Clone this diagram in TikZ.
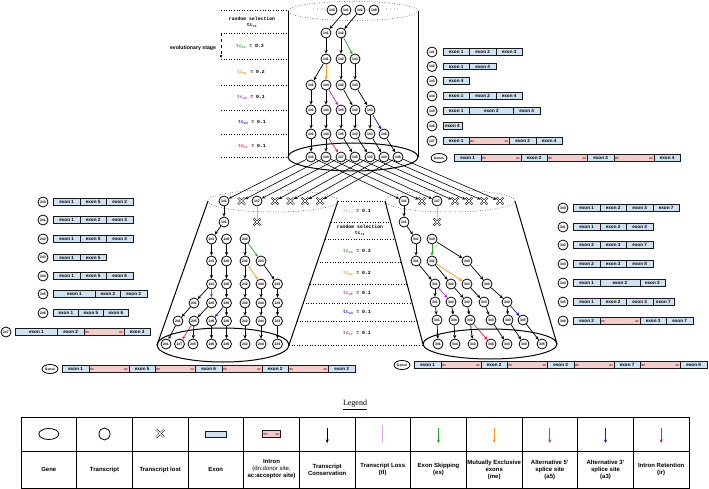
\documentclass[tikz,border=0pt]{standalone}
\usepackage{fontspec}
\setmainfont{Liberation Serif}
\setsansfont{Liberation Sans}
\setmonofont{Liberation Mono}
\usepackage{xcolor}
\usepackage{tikz}
\usetikzlibrary{shapes,arrows.meta,positioning}

\definecolor{exonblue}{HTML}{CFE2F3}
\definecolor{intronpink}{HTML}{F4CCCC}
\definecolor{esgreen}{HTML}{2CA02C}
\definecolor{meorange}{HTML}{F59A1B}
\definecolor{afpurple}{HTML}{B235C8}
\definecolor{atblue}{HTML}{1A1AB8}
\definecolor{irred}{HTML}{E3262E}
\definecolor{tlpink}{HTML}{E9A3E6}

\tikzset{
  tr/.style={circle, draw, line width=0.8pt, fill=white, minimum size=10pt, inner sep=0pt, font=\sffamily\bfseries\fontsize{3.5}{4}\selectfont},
  lost/.style={cross out, draw, line width=0.5pt, double=white, double distance=1pt, minimum size=6.5pt, inner sep=0pt},
  gene/.style={ellipse, draw, line width=0.8pt, fill=white, minimum width=16pt, minimum height=9pt, inner sep=0pt, font=\sffamily\bfseries\fontsize{3.3}{4}\selectfont},
  exon/.style={draw=black!90, line width=0.75pt, fill=exonblue, minimum height=6.5pt, minimum width=#1, inner sep=0pt, outer sep=0pt, font=\sffamily\bfseries\fontsize{4.6}{5}\selectfont},
  exon/.default=26.5pt,
  intron/.style={draw=black!90, line width=0.75pt, fill=intronpink, minimum height=6.5pt, text width=#1, inner sep=0.9pt, outer sep=0pt, font=\sffamily\fontsize{3.6}{4}\selectfont, text=red!40!black},
  intron/.default=38.2pt,
  cons/.style={-{Stealth[length=3.6pt,width=3.2pt]}, line width=0.7pt},
  esarr/.style={cons, draw=esgreen},
  mearr/.style={cons, draw=meorange},
  afarr/.style={cons, draw=afpurple},
  atarr/.style={cons, draw=atblue},
  irarr/.style={cons, draw=irred},
  tlline/.style={line width=0.7pt, draw=tlpink},
  sel/.style={-{Stealth[length=3.4pt,width=3pt]}, line width=0.6pt},
  rate/.style={font=\ttfamily\bfseries\fontsize{4.8}{5.8}\selectfont, align=center},
  sep/.style={dotted, line width=0.6pt},
  legtext/.style={font=\sffamily\bfseries\fontsize{6}{7}\selectfont, align=center},
}

\begin{document}
\begin{tikzpicture}[x=1pt,y=-1pt]
\useasboundingbox (0,0) rectangle (709,489);

% cylinders
\draw[dotted, line width=0.5pt] (353,11) ellipse [x radius=65pt, y radius=9.5pt];
\draw[line width=1pt] (288,11) -- (288,157) (418,11) -- (418,157);
\draw[line width=1pt] (353,157) ellipse [x radius=65pt, y radius=14pt];

\draw[dotted, line width=0.5pt] (273,201) ellipse [x radius=65pt, y radius=11pt];
\draw[line width=1pt] (208,201) -- (157,345) (338,201) -- (289,345);
\draw[line width=1pt] (223,345) ellipse [x radius=66pt, y radius=17pt];

\draw[dotted, line width=0.5pt] (450,201) ellipse [x radius=65pt, y radius=11pt];
\draw[line width=1pt] (385,201) -- (423,344) (515,201) -- (557,344);
\draw[line width=1pt] (490,344) ellipse [x radius=67pt, y radius=15pt];

% stage separators
\draw[sep] (221,10) -- (288,10) (221,33) -- (288,33) (221,59) -- (288,59) (221,85) -- (288,85)
  (221,110) -- (288,110) (221,134) -- (288,134) (221,157) -- (288,157);
\draw[sep] (338,201) -- (385,201) (331,222) -- (390.6,222) (325,239) -- (395,239) (317,262) -- (401,262)
  (310,284) -- (407,284) (303,303) -- (412,303) (297,321) -- (417,321) (289,345) -- (423,345);

% stage labels
\node[rate] (rs1) at (252,22) {random selection\\tc\textsubscript{rs}};
\node[rate] (es1) at (250,46) {\textcolor{esgreen}{tc\textsubscript{es}} = 0.3};
\node[rate] (me1) at (251,72) {\textcolor{meorange}{tc\textsubscript{me}} = 0.2};
\node[rate] (af1) at (251,97) {\textcolor{afpurple}{tc\textsubscript{a5}} = 0.1};
\node[rate] (at1) at (252,122) {\textcolor{atblue}{tc\textsubscript{a3}} = 0.1};
\node[rate] (ir1) at (252,146) {\textcolor{irred}{tc\textsubscript{ir}} = 0.1};
\node[font=\sffamily\bfseries\fontsize{5.2}{6}\selectfont] (evo) at (193,48) {evolutionary stage};
\coordinate (evtop) at (221,33);
\coordinate (evbot) at (221,58);
\draw[dashed, line width=0.5pt, -{Stealth[length=3.4pt,width=3pt]}] (evtop) -- (evbot);

\node[rate] (tl2) at (357,211.5) {\textcolor{tlpink}{tc\textsubscript{tl}} = 0.1};
\node[rate] (rs2) at (360,230.5) {random selection\\tc\textsubscript{rs}};
\node[rate] (es2) at (357,251) {\textcolor{esgreen}{tc\textsubscript{es}} = 0.3};
\node[rate] (me2) at (357,273) {\textcolor{meorange}{tc\textsubscript{me}} = 0.2};
\node[rate] (af2) at (357,293.5) {\textcolor{afpurple}{tc\textsubscript{a5}} = 0.1};
\node[rate] (at2) at (357,312) {\textcolor{atblue}{tc\textsubscript{a3}} = 0.1};
\node[rate] (ir2) at (357,333) {\textcolor{irred}{tc\textsubscript{ir}} = 0.1};

% gene 1 transcripts
\node[font=\fontsize{8}{8}\selectfont] (dl) at (319,10) {$\cdot\cdot\cdot\cdot$};
\node[font=\fontsize{8}{8}\selectfont] (dr) at (392,10) {$\cdot\cdot\cdot\cdot$};
\node[tr] (a11) at (332,10) {1\#0};
\node[tr] (a12) at (346,10) {1\#1};
\node[tr] (a13) at (360,10) {1\#2};
\node[tr] (a14) at (374,10) {1\#9};
\node[tr] (a21) at (326,33) {1\#1};
\node[tr] (a22) at (341,33) {1\#2};
\node[tr] (a31) at (326,59) {1\#1};
\node[tr] (a32) at (341,59) {1\#2};
\node[tr] (a33) at (355,59) {1\#3};
\node[tr] (a41) at (311,85) {1\#1};
\node[tr] (a42) at (326,85) {1\#4};
\node[tr] (a43) at (341,85) {1\#2};
\node[tr] (a44) at (355,85) {1\#3};
\node[tr] (a51) at (311,110) {1\#1};
\node[tr] (a52) at (326,110) {1\#4};
\node[tr] (a53) at (341,110) {1\#5};
\node[tr] (a54) at (355,110) {1\#2};
\node[tr] (a55) at (370,110) {1\#3};
\node[tr] (a61) at (311,134) {1\#1};
\node[tr] (a62) at (326,134) {1\#4};
\node[tr] (a63) at (341,134) {1\#5};
\node[tr] (a64) at (355,134) {1\#2};
\node[tr] (a65) at (370,134) {1\#3};
\node[tr] (a66) at (384,134) {1\#6};
\node[tr] (a71) at (311,157) {1\#1};
\node[tr] (a72) at (326,157) {1\#4};
\node[tr] (a73) at (341,157) {1\#7};
\node[tr] (a74) at (355,157) {1\#5};
\node[tr] (a75) at (370,157) {1\#2};
\node[tr] (a76) at (384,157) {1\#3};
\node[tr] (a77) at (398,157) {1\#6};

\draw[cons] (a12) -- (a21);
\draw[cons] (a13) -- (a22);
\draw[cons] (a21) -- (a31);
\draw[cons] (a22) -- (a32);
\draw[esarr] (a22) -- (a33);
\draw[cons] (a31) -- (a41);
\draw[mearr] (a31) -- (a42);
\draw[cons] (a32) -- (a43);
\draw[cons] (a33) -- (a44);
\draw[cons] (a41) -- (a51);
\draw[cons] (a42) -- (a52);
\draw[afarr] (a42) -- (a53);
\draw[cons] (a43) -- (a54);
\draw[cons] (a44) -- (a55);
\draw[cons] (a51) -- (a61);
\draw[cons] (a52) -- (a62);
\draw[cons] (a53) -- (a63);
\draw[cons] (a54) -- (a64);
\draw[cons] (a55) -- (a65);
\draw[atarr] (a55) -- (a66);
\draw[cons] (a61) -- (a71);
\draw[cons] (a62) -- (a72);
\draw[irarr] (a62) -- (a73);
\draw[cons] (a63) -- (a74);
\draw[cons] (a64) -- (a75);
\draw[cons] (a65) -- (a76);
\draw[cons] (a66) -- (a77);

% gene 2 transcripts
\node[tr] (b11) at (224,201) {1\#1};
\node[lost] (b12) at (241.5,201) {};
\node[tr] (b13) at (257,201) {1\#7};
\node[lost] (b14) at (275,201) {};
\node[lost] (b15) at (290.5,201) {};
\node[lost] (b16) at (305,201) {};
\node[lost] (b17) at (320,201) {};
\node[tr] (b21) at (224,222) {1\#1};
\node[lost] (b22) at (257,222) {};
\node[tr] (b31) at (211.5,239) {2\#1};
\node[tr] (b32) at (226.5,239) {2\#0};
\node[tr] (b33) at (245,239) {2\#2};
\node[tr] (b41) at (211.5,261) {2\#1};
\node[tr] (b42) at (226.5,261) {2\#0};
\node[tr] (b43) at (245,261) {2\#2};
\node[tr] (b44) at (261,261) {2\#3};
\node[tr] (b51) at (211.5,284) {2\#1};
\node[tr] (b52) at (226.5,284) {2\#0};
\node[tr] (b53) at (245,284) {2\#2};
\node[tr] (b54) at (261,284) {2\#4};
\node[tr] (b55) at (277.5,284) {2\#3};
\node[tr] (b61) at (194,303) {2\#1};
\node[tr] (b62) at (211.5,303) {2\#5};
\node[tr] (b63) at (226.5,303) {2\#0};
\node[tr] (b64) at (245,303) {2\#2};
\node[tr] (b65) at (261,303) {2\#4};
\node[tr] (b66) at (277.5,303) {2\#3};
\node[tr] (b71) at (178,321) {2\#1};
\node[tr] (b72) at (194,321) {2\#5};
\node[tr] (b73) at (211.5,321) {2\#6};
\node[tr] (b74) at (226.5,321) {2\#0};
\node[tr] (b75) at (245,321) {2\#2};
\node[tr] (b76) at (261,321) {2\#4};
\node[tr] (b77) at (277.5,321) {2\#3};
\node[tr] (b81) at (166,344) {2\#1};
\node[tr] (b82) at (179.5,344) {2\#7};
\node[tr] (b83) at (193,344) {2\#5};
\node[tr] (b84) at (211.5,344) {2\#6};
\node[tr] (b85) at (226.5,344) {2\#0};
\node[tr] (b86) at (245,344) {2\#2};
\node[tr] (b87) at (261,344) {2\#4};
\node[tr] (b88) at (277.5,344) {2\#3};

\draw[cons] (b11) -- (b21);
\draw[tlline] (b13) -- (b22);
\draw[cons] (b21) -- (b31);
\draw[cons] (b31) -- (b41);
\draw[cons] (b32) -- (b42);
\draw[cons] (b33) -- (b43);
\draw[esarr] (b33) -- (b44);
\draw[cons] (b41) -- (b51);
\draw[cons] (b42) -- (b52);
\draw[cons] (b43) -- (b53);
\draw[mearr] (b43) -- (b54);
\draw[cons] (b44) -- (b55);
\draw[cons] (b51) -- (b61);
\draw[afarr] (b51) -- (b62);
\draw[cons] (b52) -- (b63);
\draw[cons] (b53) -- (b64);
\draw[cons] (b54) -- (b65);
\draw[cons] (b55) -- (b66);
\draw[cons] (b61) -- (b71);
\draw[cons] (b62) -- (b72);
\draw[atarr] (b63) -- (b73);
\draw[cons] (b63) -- (b74);
\draw[cons] (b64) -- (b75);
\draw[cons] (b65) -- (b76);
\draw[cons] (b66) -- (b77);
\draw[cons] (b71) -- (b81);
\draw[irarr] (b72) -- (b82);
\draw[cons] (b72) -- (b83);
\draw[cons] (b73) -- (b84);
\draw[cons] (b74) -- (b85);
\draw[cons] (b75) -- (b86);
\draw[cons] (b76) -- (b87);
\draw[cons] (b77) -- (b88);

% gene 3 transcripts
\node[tr] (c11) at (404,201) {1\#1};
\node[lost] (c12) at (422,201) {};
\node[tr] (c13) at (437,201) {1\#7};
\node[lost] (c14) at (455,201) {};
\node[lost] (c15) at (469,201) {};
\node[lost] (c16) at (484,201) {};
\node[lost] (c17) at (500,201) {};
\node[tr] (c21) at (404,222) {1\#1};
\node[lost] (c22) at (437,222) {};
\node[tr] (c31) at (416,239) {3\#1};
\node[tr] (c32) at (432,239) {3\#0};
\node[tr] (c41) at (416,261) {3\#1};
\node[tr] (c42) at (432,261) {3\#2};
\node[tr] (c43) at (467,261) {3\#0};
\node[tr] (c51) at (435,284) {3\#1};
\node[tr] (c52) at (451,284) {3\#2};
\node[tr] (c53) at (467,284) {3\#3};
\node[tr] (c54) at (487,284) {3\#0};
\node[tr] (c61) at (435,302) {3\#1};
\node[tr] (c62) at (451,302) {3\#4};
\node[tr] (c63) at (467,302) {3\#2};
\node[tr] (c64) at (484,302) {3\#3};
\node[tr] (c65) at (507,302) {3\#0};
\node[tr] (c71) at (437,320) {3\#1};
\node[tr] (c72) at (454,320) {3\#4};
\node[tr] (c73) at (470,320) {3\#2};
\node[tr] (c74) at (491,320) {3\#3};
\node[tr] (c75) at (508,320) {3\#0};
\node[tr] (c76) at (523,320) {3\#5};
\node[tr] (c81) at (438,344) {3\#1};
\node[tr] (c82) at (455,344) {3\#4};
\node[tr] (c83) at (473,344) {3\#2};
\node[tr] (c84) at (491,344) {3\#6};
\node[tr] (c85) at (507,344) {3\#3};
\node[tr] (c86) at (524,344) {3\#0};
\node[tr] (c87) at (542,344) {3\#5};

\draw[cons] (c11) -- (c21);
\draw[tlline] (c13) -- (c22);
\draw[cons] (c21) -- (c31);
\draw[cons] (c31) -- (c41);
\draw[esarr] (c32) -- (c42);
\draw[cons] (c32) -- (c43);
\draw[cons] (c41) -- (c51);
\draw[cons] (c42) -- (c52);
\draw[mearr] (c42) -- (c53);
\draw[cons] (c43) -- (c54);
\draw[cons] (c51) -- (c61);
\draw[afarr] (c51) -- (c62);
\draw[cons] (c52) -- (c63);
\draw[cons] (c53) -- (c64);
\draw[cons] (c54) -- (c65);
\draw[cons] (c61) -- (c71);
\draw[cons] (c62) -- (c72);
\draw[cons] (c63) -- (c73);
\draw[cons] (c64) -- (c74);
\draw[cons] (c65) -- (c75);
\draw[atarr] (c65) -- (c76);
\draw[cons] (c71) -- (c81);
\draw[cons] (c72) -- (c82);
\draw[cons] (c73) -- (c83);
\draw[irarr] (c73) -- (c84);
\draw[cons] (c74) -- (c85);
\draw[cons] (c75) -- (c86);
\draw[cons] (c76) -- (c87);

% gene 1 -> gene 2 and gene 3
\draw[sel] (a71) -- (b11);
\draw[sel] (a72) -- (b12);
\draw[sel] (a73) -- (b13);
\draw[sel] (a74) -- (b14);
\draw[sel] (a75) -- (b15);
\draw[sel] (a76) -- (b16);
\draw[sel] (a77) -- (b17);
\draw[sel] (a71) -- (c11);
\draw[sel] (a72) -- (c12);
\draw[sel] (a73) -- (c13);
\draw[sel] (a74) -- (c14);
\draw[sel] (a75) -- (c15);
\draw[sel] (a76) -- (c16);
\draw[sel] (a77) -- (c17);

% gene 1 structures
\node[tr] (t11) at (432,52) {1\#1};
\node[exon, right=5.5pt of t11] (t11a) {exon 1};
\node[exon, right=0pt of t11a] (t11b) {exon 2};
\node[exon, right=0pt of t11b] (t11c) {exon 3};
\node[tr] (t12) at (432,66.5) {1\#2};
\node[exon, right=5.5pt of t12] (t12a) {exon 1};
\node[exon, right=0pt of t12a] (t12b) {exon 4};
\node[tr] (t13) at (432,81) {1\#3};
\node[exon, right=5.5pt of t13] (t13a) {exon 4};
\node[tr] (t14) at (432,96) {1\#4};
\node[exon, right=5.5pt of t14] (t14a) {exon 1};
\node[exon, right=0pt of t14a] (t14b) {exon 2};
\node[exon, right=0pt of t14b] (t14c) {exon 4};
\node[tr] (t15) at (432,111) {1\#5};
\node[exon, right=5.5pt of t15] (t15a) {exon 1};
\node[exon=44pt, right=0pt of t15a] (t15b) {exon 2};
\node[exon, right=0pt of t15b] (t15c) {exon 4};
\node[tr] (t16) at (432,126) {1\#6};
\node[exon=19pt, right=5.5pt of t16] (t16a) {exon 4};
\node[tr] (t17) at (432,141) {1\#7};
\node[exon, right=5.5pt of t17] (t17a) {exon 1};
\node[intron, right=0pt of t17a] (t17b) {dn\hfill ac};
\node[exon, right=0pt of t17b] (t17c) {exon 2};
\node[exon, right=0pt of t17c] (t17d) {exon 4};
\node[gene] (g1) at (439,158) {Gene1};
\node[exon, right=7pt of g1] (g1a) {exon 1};
\node[intron, right=0pt of g1a] (g1b) {dn\hfill ac};
\node[exon, right=0pt of g1b] (g1c) {exon 2};
\node[intron, right=0pt of g1c] (g1d) {dn\hfill ac};
\node[exon, right=0pt of g1d] (g1e) {exon 3};
\node[intron, right=0pt of g1e] (g1f) {dn\hfill ac};
\node[exon, right=0pt of g1f] (g1g) {exon 4};

% gene 2 structures
\node[tr] (t20) at (43,202) {2\#0};
\node[exon, right=5pt of t20] (t20a) {exon 1};
\node[exon, right=0pt of t20a] (t20b) {exon 5};
\node[exon, right=0pt of t20b] (t20c) {exon 2};
\node[tr] (t21) at (43,220) {2\#1};
\node[exon, right=5pt of t21] (t21a) {exon 1};
\node[exon, right=0pt of t21a] (t21b) {exon 2};
\node[exon, right=0pt of t21b] (t21c) {exon 3};
\node[tr] (t22) at (43,239) {2\#2};
\node[exon, right=5pt of t22] (t22a) {exon 1};
\node[exon, right=0pt of t22a] (t22b) {exon 5};
\node[exon, right=0pt of t22b] (t22c) {exon 3};
\node[tr] (t23) at (43,257.5) {2\#3};
\node[exon, right=5pt of t23] (t23a) {exon 1};
\node[exon, right=0pt of t23a] (t23b) {exon 5};
\node[tr] (t24) at (43,276) {2\#4};
\node[exon, right=5pt of t24] (t24a) {exon 1};
\node[exon, right=0pt of t24a] (t24b) {exon 5};
\node[exon, right=0pt of t24b] (t24c) {exon 6};
\node[tr] (t25) at (43,294) {2\#5};
\node[exon=42pt, right=5pt of t25] (t25a) {exon 1};
\node[exon=25pt, right=0pt of t25a] (t25b) {exon 2};
\node[exon, right=0pt of t25b] (t25c) {exon 3};
\node[tr] (t26) at (43,313) {2\#6};
\node[exon=25pt, right=5pt of t26] (t26a) {exon 1};
\node[exon=25pt, right=0pt of t26a] (t26b) {exon 5};
\node[exon=25pt, right=0pt of t26b] (t26c) {exon 6};
\node[tr] (t27) at (6,332) {2\#7};
\node[exon=42pt, right=4pt of t27] (t27a) {exon 1};
\node[exon, right=0pt of t27a] (t27b) {exon 2};
\node[intron, right=0pt of t27b] (t27c) {dn\hfill ac};
\node[exon, right=0pt of t27c] (t27d) {exon 3};
\node[gene] (g2) at (50,369) {Gene2};
\node[exon, right=4pt of g2] (g2a) {exon 1};
\node[intron, right=0pt of g2a] (g2b) {dn\hfill ac};
\node[exon, right=0pt of g2b] (g2c) {exon 5};
\node[intron, right=0pt of g2c] (g2d) {dn\hfill ac};
\node[exon, right=0pt of g2d] (g2e) {exon 6};
\node[intron, right=0pt of g2e] (g2f) {dn\hfill ac};
\node[exon, right=0pt of g2f] (g2g) {exon 2};
\node[intron, right=0pt of g2g] (g2h) {dn\hfill ac};
\node[exon, right=0pt of g2h] (g2i) {exon 3};

% gene 3 structures
\node[tr] (t30) at (563,208) {3\#0};
\node[exon, right=5pt of t30] (t30a) {exon 1};
\node[exon, right=0pt of t30a] (t30b) {exon 2};
\node[exon, right=0pt of t30b] (t30c) {exon 3};
\node[exon, right=0pt of t30c] (t30d) {exon 7};
\node[tr] (t31) at (563,227) {3\#1};
\node[exon, right=5pt of t31] (t31a) {exon 1};
\node[exon, right=0pt of t31a] (t31b) {exon 2};
\node[exon, right=0pt of t31b] (t31c) {exon 3};
\node[tr] (t32) at (563,245) {3\#2};
\node[exon, right=5pt of t32] (t32a) {exon 2};
\node[exon, right=0pt of t32a] (t32b) {exon 3};
\node[exon, right=0pt of t32b] (t32c) {exon 7};
\node[tr] (t33) at (563,264) {3\#3};
\node[exon, right=5pt of t33] (t33a) {exon 2};
\node[exon, right=0pt of t33a] (t33b) {exon 3};
\node[exon, right=0pt of t33b] (t33c) {exon 8};
\node[tr] (t34) at (563,283) {3\#4};
\node[exon, right=5pt of t34] (t34a) {exon 1};
\node[exon=40pt, right=0pt of t34a] (t34b) {exon 2};
\node[exon=25pt, right=0pt of t34b] (t34c) {exon 3};
\node[tr] (t35) at (563,302) {3\#5};
\node[exon, right=5pt of t35] (t35a) {exon 1};
\node[exon, right=0pt of t35a] (t35b) {exon 2};
\node[exon, right=0pt of t35b] (t35c) {exon 3};
\node[exon=21pt, right=0pt of t35c] (t35d) {exon 7};
\node[tr] (t36) at (563,321) {3\#6};
\node[exon, right=5pt of t36] (t36a) {exon 2};
\node[intron, right=0pt of t36a] (t36b) {dn\hfill ac};
\node[exon, right=0pt of t36b] (t36c) {exon 3};
\node[exon, right=0pt of t36c] (t36d) {exon 7};
\node[gene] (g3) at (402,365) {Gene3};
\node[exon, right=4pt of g3] (g3a) {exon 1};
\node[intron, right=0pt of g3a] (g3b) {dn\hfill ac};
\node[exon, right=0pt of g3b] (g3c) {exon 2};
\node[intron, right=0pt of g3c] (g3d) {dn\hfill ac};
\node[exon, right=0pt of g3d] (g3e) {exon 3};
\node[intron, right=0pt of g3e] (g3f) {dn\hfill ac};
\node[exon, right=0pt of g3f] (g3g) {exon 7};
\node[intron, right=0pt of g3g] (g3h) {dn\hfill ac};
\node[exon, right=0pt of g3h] (g3i) {exon 8};

% legend
\node[font=\fontsize{8}{9}\selectfont] (legend) at (355,405) {\underline{Legend}};
\draw[line width=0.7pt] (21,417) rectangle (689,488);
\draw[line width=0.7pt] (21,451) -- (689,451);
\draw[line width=0.7pt] (76.7,417) -- (76.7,488) (132.3,417) -- (132.3,488) (188,417) -- (188,488)
  (243.7,417) -- (243.7,488) (299.3,417) -- (299.3,488) (355,417) -- (355,488) (410.7,417) -- (410.7,488)
  (466.3,417) -- (466.3,488) (522,417) -- (522,488) (577.7,417) -- (577.7,488) (633.3,417) -- (633.3,488);

\node[gene, minimum width=20pt, minimum height=11pt] (lgene) at (48.8,434) {};
\node[ellipse, draw, line width=0.8pt, minimum width=11pt, minimum height=12pt, inner sep=0pt] (ltr) at (104.5,434) {};
\node[lost, minimum size=7pt] (llost) at (160.2,433.5) {};
\node[exon=21pt, minimum height=6pt] (lexon) at (215.8,434) {};
\node[intron=16pt, minimum height=6.5pt] (lintron) at (271.5,434) {dn\hfill ac};
\coordinate (lc6a) at (327.2,428); \coordinate (lc6b) at (327.2,443);
\coordinate (lc7a) at (382.8,425); \coordinate (lc7b) at (382.8,442);
\coordinate (lc8a) at (438.5,428); \coordinate (lc8b) at (438.5,443);
\coordinate (lc9a) at (494.2,428); \coordinate (lc9b) at (494.2,443);
\coordinate (lc10a) at (549.8,428); \coordinate (lc10b) at (549.8,443);
\coordinate (lc11a) at (605.5,428); \coordinate (lc11b) at (605.5,443);
\coordinate (lc12a) at (661.2,428); \coordinate (lc12b) at (661.2,443);
\draw[cons] (lc6a) -- (lc6b);
\draw[tlline] (lc7a) -- (lc7b);
\draw[esarr] (lc8a) -- (lc8b);
\draw[mearr] (lc9a) -- (lc9b);
\draw[afarr] (lc10a) -- (lc10b);
\draw[atarr] (lc11a) -- (lc11b);
\draw[irarr] (lc12a) -- (lc12b);

\node[legtext] (lt1) at (48.8,469.5) {Gene};
\node[legtext] (lt2) at (104.5,469.5) {Transcript};
\node[legtext] (lt3) at (160.2,469.5) {Transcript lost};
\node[legtext] (lt4) at (215.8,469.5) {Exon};
\node[legtext] (lt5) at (271.5,469.5) {Intron\\\mdseries(dn:donor site,\\ac:acceptor site)};
\node[legtext] (lt6) at (327.2,469.5) {Transcript\\Conservation};
\node[legtext] (lt7) at (382.8,469.5) {Transcript Loss\\(tl)};
\node[legtext] (lt8) at (438.5,469.5) {Exon Skipping\\(es)};
\node[legtext] (lt9) at (494.2,469.5) {Mutually Exclusive\\exons\\(me)};
\node[legtext] (lt10) at (549.8,469.5) {Alternative 5'\\splice site\\(a5)};
\node[legtext] (lt11) at (605.5,469.5) {Alternative 3'\\splice site\\(a3)};
\node[legtext] (lt12) at (661.2,469.5) {Intron Retention\\(ir)};
\end{tikzpicture}
\end{document}
